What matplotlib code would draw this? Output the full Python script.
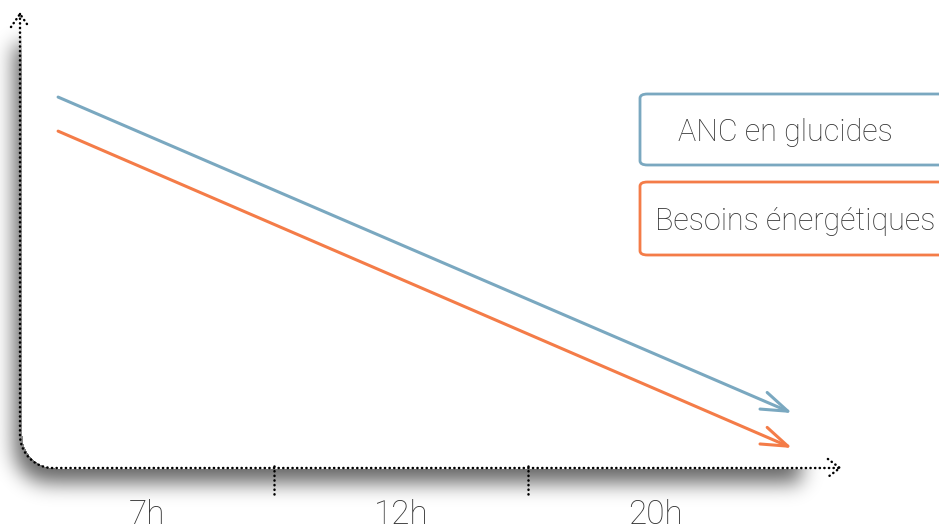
import matplotlib
matplotlib.use("Agg")
import matplotlib.pyplot as plt
import numpy as np
from matplotlib.patches import FancyBboxPatch

# data
hours = ["7h", "12h", "20h"]
hour_pos = [0.5, 1.5, 2.5]
tick_sep = [1, 2]
series = ["ANC en glucides", "Besoins énergétiques"]
x_span = [0.15, 3.04]
blue_vals = [81.7, 12.1]
orange_vals = [74.2, 4.4]

blue = "#7aa8c0"
orange = "#f47c48"
txt_col = "#333333"
font = ["Roboto", "DejaVu Sans"]

W, H = 939, 529
fig = plt.figure(figsize=(W / 100, H / 100), dpi=100)
ax = fig.add_axes([0, 0, 1, 1])
sx, sy = 254.0, 4.54
x0px, y0px = 20, 468
xlim = (-x0px / sx, (W - x0px) / sx)
ylim = ((y0px - H) / sy, y0px / sy)
ax.set_xlim(*xlim)
ax.set_ylim(*ylim)
ax.axis("off")

# drop shadow behind the chart box (pixel grid)
yy, xx = np.mgrid[0:H, 0:W]


def rbox(a, b, c, d, r):
    m = (xx >= a) & (xx <= c) & (yy >= b) & (yy <= d)
    corner = (xx < a + r) & (yy > d - r)
    m &= ~corner | ((xx - (a + r)) ** 2 + (yy - (d - r)) ** 2 <= r ** 2)
    return m.astype(float)


def blur(img, s):
    k = np.arange(-3 * s, 3 * s + 1)
    k = np.exp(-k ** 2 / (2 * s ** 2))
    k /= k.sum()
    img = np.apply_along_axis(lambda v: np.convolve(v, k, mode="same"), 1, img)
    img = np.apply_along_axis(lambda v: np.convolve(v, k, mode="same"), 0, img)
    return img


box = rbox(22, -100, 2000, 468, 33)
sh = blur(rbox(14, 45, 800, 482, 33), 10) * (1 - box)
rgba = np.zeros((H, W, 4))
rgba[..., 3] = np.clip(sh * 0.6, 0, 1)
ax.imshow(rgba, extent=(xlim[0], xlim[1], ylim[0], ylim[1]), origin="upper",
          aspect="auto", zorder=0)

# dotted axes with rounded corner
dot = dict(color="black", lw=1.8, linestyle=(0, (0.1, 1.75)),
           dash_capstyle="round", solid_capstyle="round")
rx, ry = 33 / sx, 33 / sy
t = np.linspace(np.pi, 1.5 * np.pi, 30)
cx = np.concatenate([[0], rx + rx * np.cos(t), [3.228]])
cy = np.concatenate([[100], ry + ry * np.sin(t), [0]])
ax.plot(cx, cy, zorder=3, **dot)
# arrow tips of axes
ah_x, ah_y = 10 / sx, 10 / sy
ax.plot([-ah_x * 0.9, 0, ah_x * 0.9], [100 - ah_y * 1.3, 100, 100 - ah_y * 1.3], zorder=3, **dot)
ax.plot([3.228 - ah_x * 1.2, 3.228, 3.228 - ah_x * 1.2], [ah_y * 0.9, 0, -ah_y * 0.9], zorder=3, **dot)
for s in tick_sep:
    ax.plot([s, s], [0.5, -6], zorder=3, **dot)

for xp, lab in zip(hour_pos, hours):
    ax.text(xp, -6.8, lab, ha="center", va="top", fontsize=24, color=txt_col,
            family=font, fontweight="light")

# series arrows
for vals, col in [(blue_vals, blue), (orange_vals, orange)]:
    ax.annotate("", xy=(x_span[1], vals[1]), xytext=(x_span[0], vals[0]),
                arrowprops=dict(arrowstyle="->,head_length=1.9,head_width=0.65",
                                color=col, lw=2.2, shrinkA=0, shrinkB=0),
                zorder=4)

# legend boxes
for (yb, yt), col, lab, tx in [((94, 165), blue, series[0], 678),
                               ((182, 255), orange, series[1], 655)]:
    p = FancyBboxPatch((640 / W, 1 - yt / H), 0.4, (yt - yb) / H,
                       boxstyle="round,pad=0,rounding_size=0.008",
                       transform=ax.transAxes, facecolor="white",
                       edgecolor=col, lw=2, zorder=5, clip_on=False)
    ax.add_patch(p)
    ax.text(tx / W, 1 - ((yb + yt) / 2 + 3) / H, lab, transform=ax.transAxes,
            ha="left", va="center", fontsize=22, color=txt_col,
            family=font, fontweight="light", zorder=6)

fig.savefig("out.png", dpi=100)
